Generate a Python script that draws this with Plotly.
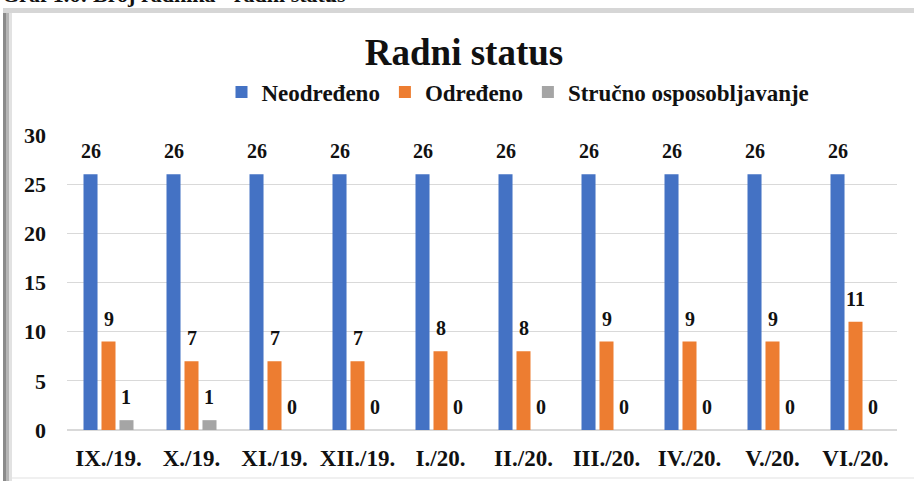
import plotly.graph_objects as go

categories = ["IX./19.", "X./19.", "XI./19.", "XII./19.", "I./20.", "II./20.",
              "III./20.", "IV./20.", "V./20.", "VI./20."]
neodredeno = [26, 26, 26, 26, 26, 26, 26, 26, 26, 26]
odredeno = [9, 7, 7, 7, 8, 8, 9, 9, 9, 11]
strucno = [1, 1, 0, 0, 0, 0, 0, 0, 0, 0]
series_names = ["Neodređeno", "Određeno", "Stručno osposobljavanje"]
colors = ["#4472C4", "#ED7D31", "#A5A5A5"]

W, H = 914, 481
ML, MR, MT, MB = 67, 17, 135, 51
BARGAP, BARGROUPGAP = 0.35, 0.22
FONT = "Liberation Serif"

fig = go.Figure()
all_series = [neodredeno, odredeno, strucno]
for name, vals, col in zip(series_names, all_series, colors):
    fig.add_trace(go.Bar(x=categories, y=vals, name=f"<b>{name}</b>",
                         marker_color=col, marker_line_width=0))

# data labels
plot_w = W - ML - MR
slot_px = plot_w / len(categories) * (1 - BARGAP) / len(all_series)
for s, vals in enumerate(all_series):
    off = (s - (len(all_series) - 1) / 2) * slot_px
    for c, v in zip(categories, vals):
        fig.add_annotation(x=c, y=v, xref="x", yref="y", text=f"<b>{v}</b>",
                           showarrow=False, xshift=off, yshift=23,
                           yanchor="middle",
                           font=dict(family=FONT, size=20, color="#111"))

plot_h = H - MT - MB
def px_x(p):
    return (p - ML) / plot_w
def px_y(p):
    return (H - MB - p) / plot_h

# frame / shadow decorations
shapes = [
    dict(type="rect", xref="paper", yref="paper", x0=px_x(3), x1=px_x(6),
         y0=px_y(481), y1=px_y(10), fillcolor="#8a8a8a", line_width=0, layer="below"),
    dict(type="rect", xref="paper", yref="paper", x0=px_x(6), x1=px_x(9),
         y0=px_y(481), y1=px_y(10), fillcolor="#b5b5b5", line_width=0, layer="below"),
    dict(type="rect", xref="paper", yref="paper", x0=px_x(9), x1=px_x(12),
         y0=px_y(481), y1=px_y(10), fillcolor="#e2e2e2", line_width=0, layer="below"),
    dict(type="rect", xref="paper", yref="paper", x0=px_x(3), x1=px_x(914),
         y0=px_y(13), y1=px_y(8), fillcolor="#d6d6d6", line_width=0, layer="below"),
    dict(type="rect", xref="paper", yref="paper", x0=px_x(12), x1=px_x(914),
         y0=px_y(479), y1=px_y(477), fillcolor="#f0f0f0", line_width=0, layer="below"),
]

# cut-off caption at the top (as in the reference)
fig.add_annotation(xref="paper", yref="paper", x=px_x(0), y=px_y(-6),
                   xanchor="left", yanchor="middle", showarrow=False,
                   text="<b>Graf 1.6: Broj radnika - radni status</b>",
                   font=dict(family=FONT, size=22, color="#111"))

fig.update_layout(
    width=W, height=H,
    margin=dict(l=ML, r=MR, t=MT, b=MB, pad=0, autoexpand=False),
    paper_bgcolor="white", plot_bgcolor="white",
    barmode="group", bargap=BARGAP, bargroupgap=BARGROUPGAP,
    title=dict(text="<b>Radni status</b>", x=464 / W, xanchor="center",
               y=1 - 52 / H, yanchor="middle",
               font=dict(family=FONT, size=37, color="#111")),
    legend=dict(orientation="h", x=px_x(518), xanchor="center", y=px_y(92),
                yanchor="middle", font=dict(family=FONT, size=23, color="#111"),
                itemwidth=30, traceorder="normal", bgcolor="rgba(0,0,0,0)"),
    shapes=shapes,
    showlegend=True,
)
fig.update_xaxes(type="category", showgrid=False, showline=True,
                 linecolor="#d9d9d9", linewidth=1, ticks="", automargin=False,
                 ticklabelstandoff=7,
                 tickfont=dict(family=FONT, size=23, color="#111"),
                 tickprefix="<b>", ticksuffix="</b>")
fig.update_yaxes(range=[0, 30], dtick=5, showgrid=True, gridcolor="#d9d9d9",
                 gridwidth=1, zeroline=True, zerolinecolor="#d9d9d9",
                 ticks="", ticklabelstandoff=20, automargin=False,
                 tickfont=dict(family=FONT, size=22, color="#111"),
                 tickprefix="<b>", ticksuffix="</b>")

fig.write_html("out.html",
               config={"displayModeBar": False},
               post_script="document.body.style.margin='0';"
                           "document.body.style.overflow='hidden';")
